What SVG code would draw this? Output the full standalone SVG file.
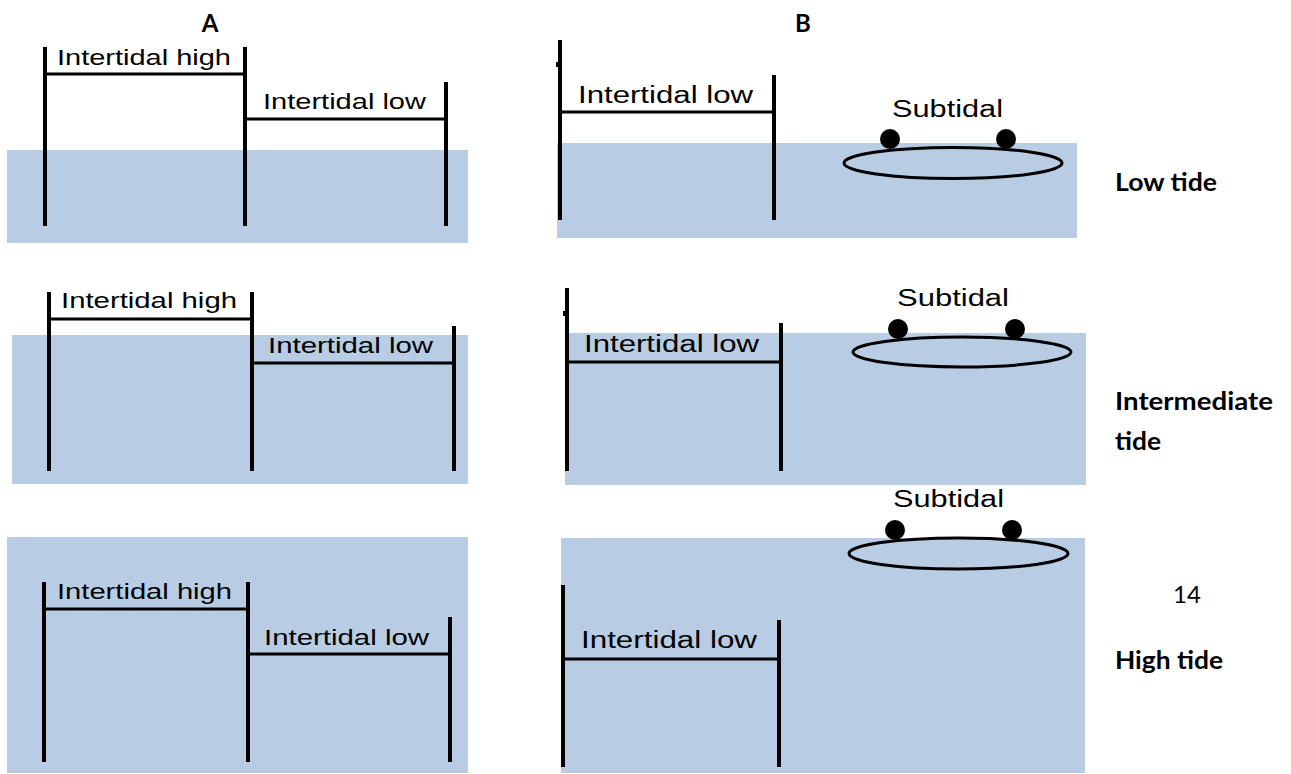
<svg xmlns="http://www.w3.org/2000/svg" width="1291" height="774" viewBox="0 0 1291 774">
  <style>
    .water { fill: #B8CCE4; }
    .post { stroke: #000; stroke-width: 4; fill: none; }
    .bar { stroke: #000; stroke-width: 3; fill: none; }
    .rock { stroke: #000; stroke-width: 3; fill: none; }
    .dot { fill: #000; }
    .zone { font-family: "Liberation Sans", Arial, sans-serif; font-size: 22px; fill: #000; }
    .zoneB { font-family: "Liberation Sans", Arial, sans-serif; font-size: 23px; fill: #000; }
    .head { font-family: Lato, "Liberation Sans", sans-serif; font-weight: bold; font-size: 24px; fill: #000; }
    .num { font-family: Lato, "Liberation Sans", sans-serif; font-size: 24px; fill: #000; }
  </style>

  <!-- column headings -->
  <g id="heading-a"><text class="head" x="210" y="32" text-anchor="middle">A</text></g>
  <g id="heading-b"><text class="head" x="803" y="32" text-anchor="middle">B</text></g>

  <!-- A: low tide -->
  <g id="a-low-tide">
    <rect class="water" x="7" y="150" width="461" height="93"/>
    <line class="post" x1="45" y1="47" x2="45" y2="226"/>
    <line class="post" x1="245" y1="47" x2="245" y2="226"/>
    <line class="post" x1="446" y1="82" x2="446" y2="226"/>
    <line class="bar" x1="45" y1="74" x2="245" y2="74"/>
    <line class="bar" x1="245" y1="119" x2="446" y2="119"/>
    <text class="zone" x="57" y="65" textLength="174" lengthAdjust="spacingAndGlyphs">Intertidal high</text>
    <text class="zone" x="263" y="109" textLength="163" lengthAdjust="spacingAndGlyphs">Intertidal low</text>
  </g>

  <!-- A: intermediate tide -->
  <g id="a-intermediate-tide">
    <rect class="water" x="12" y="335" width="456" height="149"/>
    <line class="post" x1="49" y1="292" x2="49" y2="471"/>
    <line class="post" x1="252" y1="292" x2="252" y2="471"/>
    <line class="post" x1="454" y1="326" x2="454" y2="471"/>
    <line class="bar" x1="49" y1="319" x2="252" y2="319"/>
    <line class="bar" x1="252" y1="363" x2="454" y2="363"/>
    <text class="zone" x="61" y="308" textLength="176" lengthAdjust="spacingAndGlyphs">Intertidal high</text>
    <text class="zone" x="268" y="353" textLength="165" lengthAdjust="spacingAndGlyphs">Intertidal low</text>
  </g>

  <!-- A: high tide -->
  <g id="a-high-tide">
    <rect class="water" x="7" y="537" width="461" height="236"/>
    <line class="post" x1="44" y1="582" x2="44" y2="762"/>
    <line class="post" x1="248" y1="582" x2="248" y2="762"/>
    <line class="post" x1="450" y1="617" x2="450" y2="762"/>
    <line class="bar" x1="44" y1="609" x2="248" y2="609"/>
    <line class="bar" x1="248" y1="654" x2="450" y2="654"/>
    <text class="zone" x="57" y="599" textLength="175" lengthAdjust="spacingAndGlyphs">Intertidal high</text>
    <text class="zone" x="264" y="645" textLength="165" lengthAdjust="spacingAndGlyphs">Intertidal low</text>
  </g>

  <!-- B: low tide -->
  <g id="b-low-tide">
    <rect class="water" x="557" y="143" width="520" height="95"/>
    <line class="post" x1="560" y1="40" x2="560" y2="220"/>
    <rect x="556" y="62" width="2" height="5" fill="#000"/>
    <line class="post" x1="774" y1="75" x2="774" y2="220"/>
    <line class="bar" x1="560" y1="112" x2="774" y2="112"/>
    <text class="zoneB" x="578" y="103" textLength="175" lengthAdjust="spacingAndGlyphs">Intertidal low</text>
    <ellipse class="rock" cx="953" cy="163" rx="109" ry="15.5"/>
    <circle class="dot" cx="890" cy="139" r="10"/>
    <circle class="dot" cx="1006" cy="139" r="10"/>
    <text class="zoneB" x="892" y="117" textLength="111" lengthAdjust="spacingAndGlyphs">Subtidal</text>
  </g>

  <!-- B: intermediate tide -->
  <g id="b-intermediate-tide">
    <rect class="water" x="565" y="333" width="521" height="152"/>
    <line class="post" x1="567" y1="288" x2="567" y2="471"/>
    <rect x="563" y="311" width="2" height="5" fill="#000"/>
    <line class="post" x1="781" y1="323" x2="781" y2="471"/>
    <line class="bar" x1="567" y1="362" x2="781" y2="362"/>
    <text class="zoneB" x="584" y="352" textLength="175" lengthAdjust="spacingAndGlyphs">Intertidal low</text>
    <ellipse class="rock" cx="962" cy="352" rx="109" ry="15"/>
    <circle class="dot" cx="898" cy="329" r="10"/>
    <circle class="dot" cx="1015" cy="329" r="10"/>
    <text class="zoneB" x="897" y="306" textLength="112" lengthAdjust="spacingAndGlyphs">Subtidal</text>
  </g>

  <!-- B: high tide -->
  <g id="b-high-tide">
    <rect class="water" x="561" y="538" width="524" height="235"/>
    <line class="post" x1="563" y1="585" x2="563" y2="767"/>
    <line class="post" x1="779" y1="620" x2="779" y2="767"/>
    <line class="bar" x1="563" y1="659" x2="779" y2="659"/>
    <text class="zoneB" x="581" y="648" textLength="176" lengthAdjust="spacingAndGlyphs">Intertidal low</text>
    <ellipse class="rock" cx="958.5" cy="553.5" rx="109.5" ry="15.5"/>
    <circle class="dot" cx="895" cy="530" r="10"/>
    <circle class="dot" cx="1012" cy="530" r="10"/>
    <text class="zoneB" x="893" y="507" textLength="111" lengthAdjust="spacingAndGlyphs">Subtidal</text>
  </g>

  <!-- row labels -->
  <g id="label-low-tide"><text class="head" x="1115" y="191" textLength="102" lengthAdjust="spacingAndGlyphs">Low tide</text></g>
  <g id="label-intermediate-tide">
    <text class="head" x="1115" y="410" textLength="158" lengthAdjust="spacingAndGlyphs">Intermediate</text>
    <text class="head" x="1115" y="450" textLength="46" lengthAdjust="spacingAndGlyphs">tide</text>
  </g>
  <g id="page-number"><text class="num" x="1187" y="603" text-anchor="middle">14</text></g>
  <g id="label-high-tide"><text class="head" x="1115" y="669" textLength="108" lengthAdjust="spacingAndGlyphs">High tide</text></g>

  <!-- no connectors between the panels -->
  <g id="connectors"/>
</svg>
